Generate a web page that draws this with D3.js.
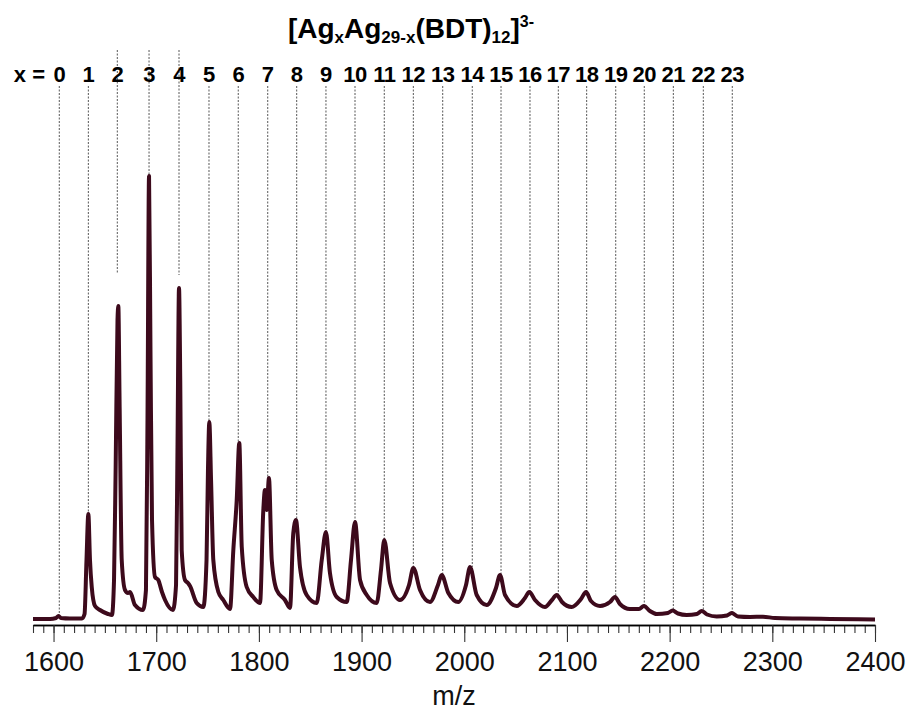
<!DOCTYPE html>
<html>
<head>
<meta charset="utf-8">
<script src="https://cdn.jsdelivr.net/npm/d3@7"></script>
<style>
  body { margin: 0; background: #fff; }
  text { font-family: "Liberation Sans", Arial, sans-serif; }
</style>
</head>
<body>
<svg id="chart" width="909" height="711"></svg>
<script>
// spectrum (m/z, relative intensity)
var spec_mz = [1580, 1596.6, 1602.4, 1604.8, 1607.3, 1616.0, 1627.7,
  1630.2, 1632.1, 1633.9, 1635.5, 1637.2, 1640.4, 1645.2, 1653.0, 1656.9,
  1658.9, 1660.5, 1662.3, 1663.1, 1664.3, 1666.4, 1669.6, 1672.5, 1674.5, 1679.3, 1687.1,
  1690.0, 1691.5, 1693.0, 1694.4, 1695.9, 1698.8, 1702.0, 1705.6, 1708.6, 1716.3,
  1719.3, 1720.7, 1722.2, 1723.4, 1724.8, 1728.0, 1730.9, 1732.9, 1739.4, 1745.9,
  1749.0, 1750.4, 1751.7, 1753.4, 1755.6, 1760.5, 1765.3, 1771.9,
  1775.1, 1778.4, 1780.9, 1783.3, 1788.1, 1794.5, 1801.1,
  1804.3, 1805.9, 1807.6, 1809.8, 1812.5, 1817.3, 1825.4, 1830.3,
  1833.5, 1836.1, 1840.0, 1846.5, 1856.3,
  1861.2, 1865.3, 1869.2, 1875.8, 1885.5,
  1889.7, 1893.6, 1898.5, 1905.0, 1914.7,
  1918.9, 1922.1, 1927.7, 1937.4,
  1946.2, 1950.4, 1956.9, 1966.6,
  1974.4, 1978.0, 1984.5, 1994.2,
  2001.7, 2005.6, 2012.1, 2021.8,
  2030.9, 2034.8, 2039.7, 2051.1,
  2059.1, 2063.3, 2068.9, 2078.6,
  2085.4, 2090.0, 2095.2, 2104.6,
  2113.7, 2118.6, 2123.4, 2132.2,
  2141.9, 2146.8, 2151.6, 2161.3, 2170.2,
  2174.9, 2180.8, 2187.4,
  2198.3, 2202.9, 2208.1, 2216.6,
  2226.6, 2231.2, 2236.4, 2245.8,
  2255.9, 2260.4, 2266.6, 2278.3, 2290.9, 2302.6, 2326.9, 2356.2, 2400];
var spec_int = [0.2, 0.2, 0.4, 0.8, 0.4, 0.3, 0.3,
  1.2, 12, 21.2, 12, 6.6, 2.8, 2.0, 1.2, 1.0,
  8, 30.6, 60, 62.8, 44, 12, 6, 5.4, 5.6, 3.0, 2.0,
  6, 40, 88.8, 54, 20, 8.6, 8, 5.6, 4, 2,
  7, 34, 66.4, 48, 14, 8, 7.4, 6.8, 3.4, 2.6,
  12, 30, 39.6, 28, 12, 5.6, 4, 2.2,
  14, 24, 35.4, 14.6, 6.6, 4.6, 3.4,
  22, 26, 22, 28.4, 12, 6, 4, 2.4,
  17.4, 20, 10.6, 5, 3.4,
  12, 17.6, 9.4, 4.6, 3.6,
  12, 19.6, 8, 5, 3.4,
  10, 16, 7.4, 4,
  7, 10.4, 6, 3.6,
  7, 9, 5.4, 3.6,
  7, 10.6, 5, 3,
  6.4, 9, 5, 2.8,
  4.4, 5.6, 4, 2.6,
  4, 5, 3.6, 2.6,
  4.2, 5.6, 3.8, 2.8,
  3.6, 4.6, 3.2, 2.2, 2.2,
  2.8, 1.8, 1.2,
  1.4, 1.9, 1.3, 1.0,
  1.2, 1.8, 1.1, 0.7,
  0.9, 1.4, 0.7, 0.6, 0.66, 0.4, 0.3, 0.2, 0.1];

// x = 0..23 marker positions and where each dotted line stops
var peak_labels = d3.range(0, 24);
var peak_mz = [1605.6, 1633.9, 1662.1, 1693.0, 1722.2, 1751.4, 1779.9, 1808.6, 1836.8, 1865.3,
  1893.6, 1922.1, 1950.4, 1979.0, 2007.8, 2035.8, 2064.0, 2091.6, 2119.2, 2147.5,
  2175.3, 2203.6, 2232.8, 2261.0];
var peak_end = [0.8, 21.2, 69.4, 88.8, 69, 39.6, 35.4, 28.4, 20, 17.6, 19.6, 16, 10.4, 9,
  10.6, 9, 5.6, 5, 5.6, 4.6, 2.8, 1.9, 1.8, 1.4];
var tall_lines = [2, 3, 4];

var major_ticks = d3.range(1600, 2401, 100);
var minor_ticks = d3.range(1580, 2401, 10);

var svg = d3.select("#chart");
var x = d3.scaleLinear().domain([1580, 2400]).range([33, 875]);
var y = d3.scaleLinear().domain([0, 100]).range([620, 120]);
var axis_y = 625;

// dotted guide lines
svg.append("g").selectAll("line").data(peak_labels).enter().append("line")
  .attr("x1", d => x(peak_mz[d])).attr("x2", d => x(peak_mz[d]))
  .attr("y1", d => tall_lines.indexOf(d) >= 0 ? 50 : 86)
  .attr("y2", d => y(peak_end[d]))
  .attr("stroke", "#444").attr("stroke-width", 0.9).attr("stroke-dasharray", "2,1.5");

// labels
svg.append("text").attr("x", 45).attr("y", 82).attr("text-anchor", "end")
  .attr("font-size", "22px").attr("font-weight", "bold").text("x =");
svg.append("g").selectAll("text").data(peak_labels).enter().append("text")
  .attr("x", d => x(peak_mz[d])).attr("y", 82).attr("text-anchor", "middle")
  .attr("font-size", "22px").attr("font-weight", "bold").attr("letter-spacing", "-0.5px")
  .text(d => d);

// title
var title = svg.append("text").attr("x", 411).attr("y", 38).attr("text-anchor", "middle")
  .attr("font-size", "28px").attr("font-weight", "bold");
title.append("tspan").text("[Ag");
title.append("tspan").attr("font-size", "17px").attr("dy", 5).text("x");
title.append("tspan").attr("dy", -5).text("Ag");
title.append("tspan").attr("font-size", "17px").attr("dy", 5).text("29-x");
title.append("tspan").attr("dy", -5).text("(BDT)");
title.append("tspan").attr("font-size", "17px").attr("dy", 5).text("12");
title.append("tspan").attr("dy", -5).text("]");
title.append("tspan").attr("font-size", "16px").attr("dy", -11).text("3-");

// spectrum
var line = d3.line().curve(d3.curveMonotoneX).x((d, i) => x(spec_mz[i])).y(d => y(d));
svg.append("path").datum(spec_int).attr("d", line)
  .attr("fill", "none").attr("stroke", "#3d0a1c").attr("stroke-width", 4)
  .attr("stroke-linejoin", "round");

// x axis
var minor = svg.append("g").attr("transform", "translate(0," + axis_y + ")")
  .call(d3.axisBottom(x).tickValues(minor_ticks).tickSize(8).tickSizeOuter(0).tickFormat(""));
var major = svg.append("g").attr("transform", "translate(0," + axis_y + ")")
  .call(d3.axisBottom(x).tickValues(major_ticks).tickSize(17).tickSizeOuter(0).tickPadding(10).tickFormat(d3.format("d")));
svg.selectAll(".domain").attr("stroke", "#000").attr("stroke-width", 1.3);
svg.selectAll(".tick line").attr("stroke", "#333").attr("stroke-width", 1.1);
major.selectAll("text").attr("font-size", "27px").attr("fill", "#111")
  .style("font-family", "'Liberation Sans', Arial, sans-serif");

svg.append("text").attr("x", 454).attr("y", 705).attr("text-anchor", "middle")
  .attr("font-size", "27px").attr("fill", "#111").text("m/z");
</script>
</body>
</html>
